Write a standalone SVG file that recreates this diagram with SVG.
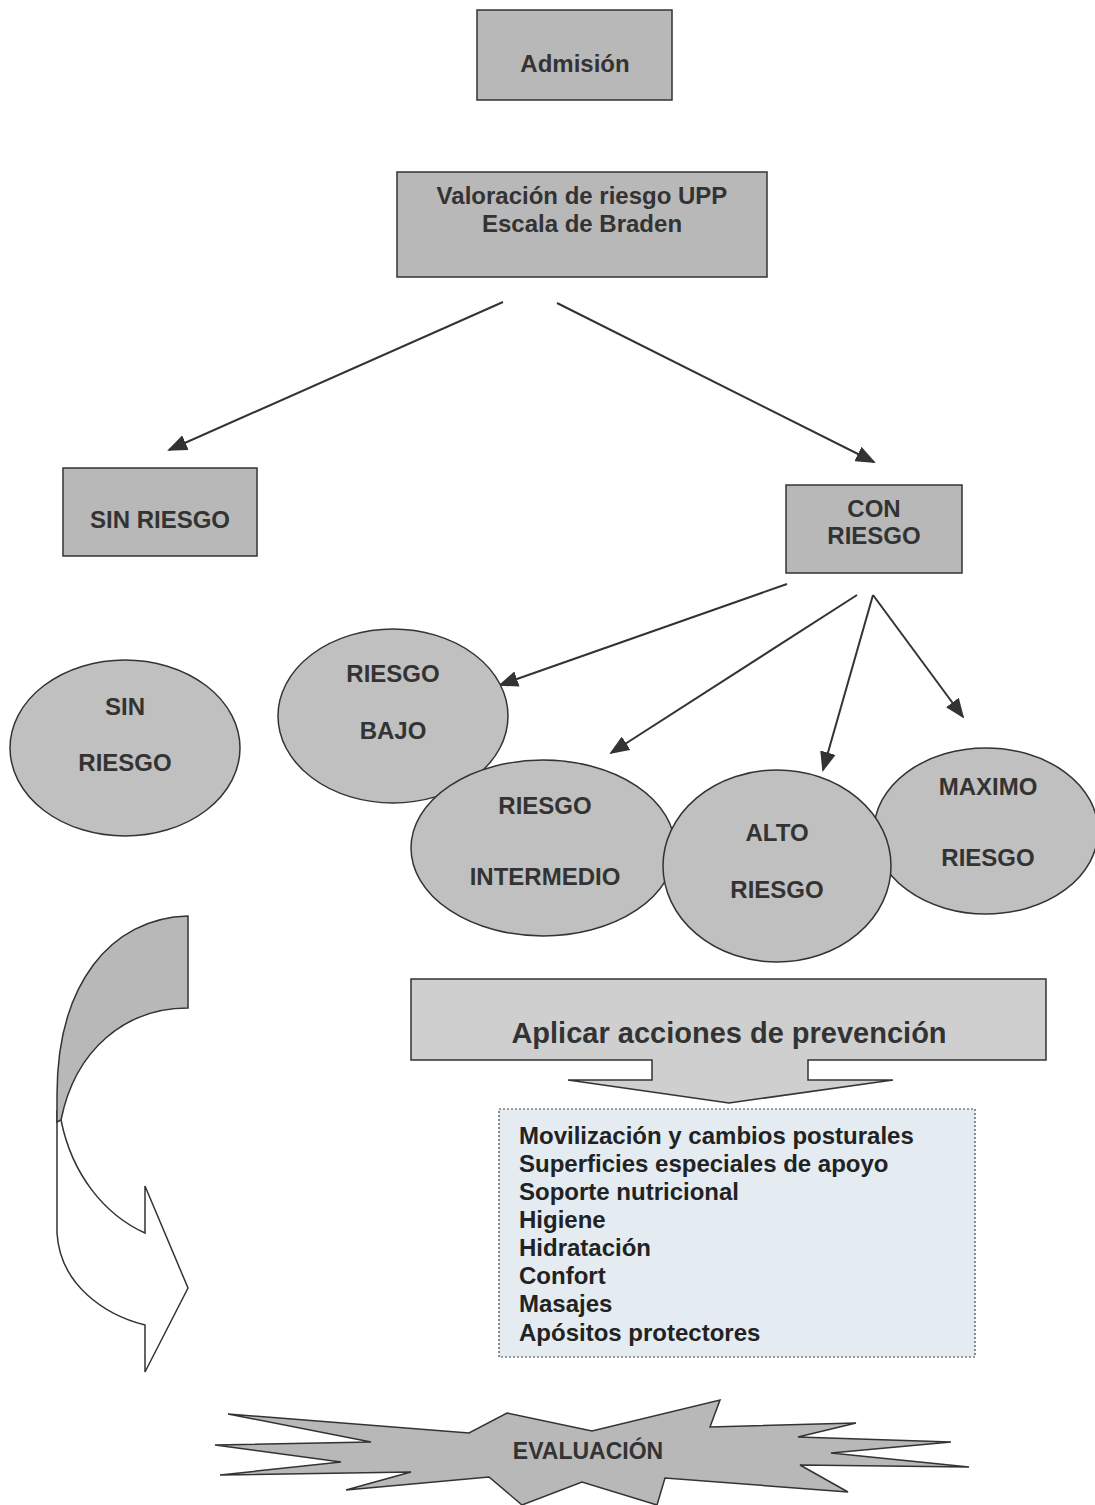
<svg xmlns="http://www.w3.org/2000/svg" width="1095" height="1505" viewBox="0 0 1095 1505">
<style>
text{font-family:"Liberation Sans",Arial,sans-serif;font-weight:bold;fill:#333;text-anchor:middle}
.box{fill:#b8b8b8;stroke:#333;stroke-width:1.5}
.ell{fill:#c0c0c0;stroke:#333;stroke-width:1.5}
.conn{stroke:#333;stroke-width:2;fill:none;marker-end:url(#ah)}
.t20{font-size:24px}
.t21{font-size:24px}
.list{font-size:24px;text-anchor:start;fill:#222}
</style>
<defs>
<marker id="ah" viewBox="0 0 20 16" refX="18" refY="8" markerWidth="20" markerHeight="16" markerUnits="userSpaceOnUse" orient="auto">
<path d="M0,0 L20,8 L0,16 Z" fill="#333"/>
</marker>
</defs>
<rect width="1095" height="1505" fill="#fff"/>

<g id="admision"><rect class="box" x="477" y="10" width="195" height="90"/><text class="t20" x="575" y="72">Admisión</text></g>
<g id="valoracion"><rect class="box" x="397" y="172" width="370" height="105"/><text class="t20" x="582" y="204">Valoración de riesgo UPP</text><text class="t20" x="582" y="232">Escala de Braden</text></g>
<g id="sin-riesgo-box"><rect class="box" x="63" y="468" width="194" height="88"/><text class="t20" x="160" y="528">SIN RIESGO</text></g>
<g id="con-riesgo-box"><rect class="box" x="786" y="485" width="176" height="88"/><text class="t20" x="874" y="517">CON</text><text class="t20" x="874" y="544">RIESGO</text></g>

<g id="connectors">
<line class="conn" x1="503" y1="302" x2="169" y2="450"/>
<line class="conn" x1="557" y1="303" x2="874" y2="462"/>
<line class="conn" x1="787" y1="584" x2="500" y2="685"/>
<line class="conn" x1="857" y1="595" x2="611" y2="753"/>
<line class="conn" x1="873" y1="595" x2="823" y2="770"/>
<line class="conn" x1="873" y1="595" x2="963" y2="717"/>
</g>

<g id="sin-riesgo-ell"><ellipse class="ell" cx="125" cy="748" rx="115" ry="88"/><text class="t21" x="125" y="715">SIN</text><text class="t21" x="125" y="771">RIESGO</text></g>
<g id="riesgo-bajo"><ellipse class="ell" cx="393" cy="716" rx="115" ry="87"/><text class="t21" x="393" y="682">RIESGO</text><text class="t21" x="393" y="739">BAJO</text></g>
<g id="maximo-riesgo"><ellipse class="ell" cx="986" cy="831" rx="112" ry="83"/><text class="t21" x="988" y="795">MAXIMO</text><text class="t21" x="988" y="866">RIESGO</text></g>
<g id="riesgo-intermedio"><ellipse class="ell" cx="543" cy="848" rx="132" ry="88"/><text class="t21" x="545" y="814">RIESGO</text><text class="t21" x="545" y="885">INTERMEDIO</text></g>
<g id="alto-riesgo"><ellipse class="ell" cx="777" cy="866" rx="114" ry="96"/><text class="t21" x="777" y="841">ALTO</text><text class="t21" x="777" y="898">RIESGO</text></g>

<g id="curved-arrow">
<path d="M57,1110 L57,1233 C60,1285 105,1315 145,1325 L145,1372 L188,1288 L145,1186 L145,1233 C105,1215 72,1175 61,1120 Z" fill="#fff" stroke="#333" stroke-width="1.5"/>
<path d="M188,916 C110,918 57,985 57,1095 L57,1122 L61,1120 C75,1050 125,1008 188,1008 Z" fill="#b8b8b8" stroke="#333" stroke-width="1.5"/>
</g>

<g id="aplicar">
<path d="M411,979 H1046 V1060 H808 V1080 H893 L729,1103 L568,1080 H652 V1060 H411 Z" fill="#cfcfcf" stroke="#333" stroke-width="1.5"/>
<text x="729" y="1043" style="font-size:29px">Aplicar acciones de prevención</text>
</g>

<g id="acciones">
<rect x="499" y="1109" width="476" height="248" fill="#e4ecf2" stroke="#444" stroke-width="1.2" stroke-dasharray="2,2"/>
<text class="list" x="519" y="1144">Movilización y cambios posturales</text>
<text class="list" x="519" y="1172">Superficies especiales de apoyo</text>
<text class="list" x="519" y="1200">Soporte nutricional</text>
<text class="list" x="519" y="1228">Higiene</text>
<text class="list" x="519" y="1256">Hidratación</text>
<text class="list" x="519" y="1284">Confort</text>
<text class="list" x="519" y="1312">Masajes</text>
<text class="list" x="519" y="1341">Apósitos protectores</text>
</g>

<g id="evaluacion">
<polygon points="228,1414 469,1433 507,1413 592,1431 720,1400 710,1427 856,1423 798,1437 951,1442 831,1453 969,1467 800,1465 848,1492 665,1478 657,1505 582,1482 522,1505 489,1477 346,1490 411,1472 220,1475 341,1462 215,1445 371,1442" fill="#b8b8b8" stroke="#333" stroke-width="1.5"/>
<text x="588" y="1459" style="font-size:23px">EVALUACIÓN</text>
</g>
</svg>
